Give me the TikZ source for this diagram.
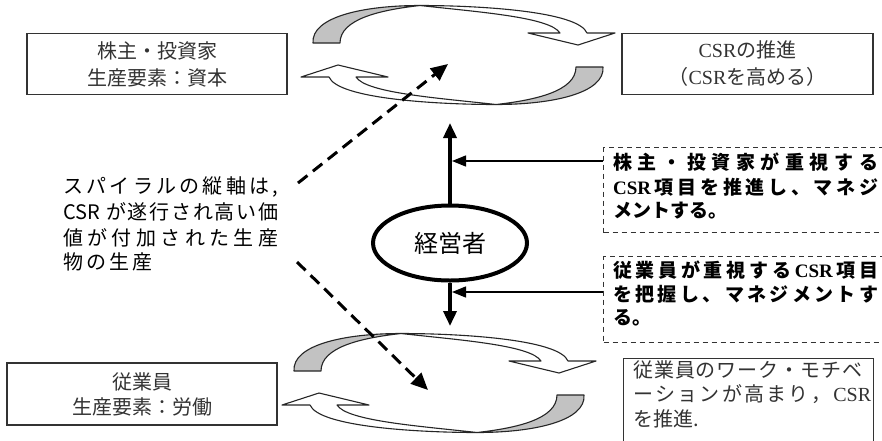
\documentclass[tikz,border=0pt]{standalone}
\usepackage{fontspec}
\setmainfont{Noto Sans CJK JP}
\newfontfamily\lserif{Liberation Serif}
\usetikzlibrary{arrows.meta,shapes.geometric}
\def\jsEnd{\jsEnd}
\def\jsNext#1{\ifx\jsEnd#1\else\hfill#1\expandafter\jsNext\fi}
\def\jsFirst#1{#1\jsNext}
\newcommand\jsline[2]{\makebox[#1][s]{\jsFirst#2\jsEnd}}
\tikzset{
  outl/.style={draw=black!85, line width=1.1pt, line join=round},
  sbox/.style={draw=black!80, line width=1.3pt, inner sep=0pt, align=center,
    font=\fontsize{20}{27}\selectfont, text=black!80},
  dbox/.style={draw=black!80, line width=1pt, dash pattern=on 5pt off 4pt,
    inner sep=0pt, anchor=north west},
  btxt/.style={font=\fontsize{19}{23}\selectfont\bfseries, anchor=west, inner sep=0pt},
  ltxt/.style={font=\fontsize{20}{24}\selectfont, anchor=west, inner sep=0pt},
  thickarrow/.style={line width=3.5pt, -{Triangle[length=15pt,width=13pt]}},
  thinarrow/.style={line width=1.4pt, -{Triangle[length=14pt,width=11pt]}},
  dasharrow/.style={line width=3pt, dash pattern=on 12pt off 7pt,
    -{Triangle[length=17pt,width=15pt]}},
  halfloop/.pic={
    \path[outl, fill=white] (-38,-49.5) .. controls (20,-49.5) and (120,-44) .. (129,-22)
      -- (157,-22) -- (120,-10) -- (70,-22) -- (102,-22)
      .. controls (92,-38) and (20,-43) .. (-38,-49.5) -- cycle;
    \path[outl, fill=black!24] (-145,-12) .. controls (-147,-38) and (-95,-49.5) .. (-38,-49.5)
      .. controls (-78,-45) and (-118,-36) .. (-118,-12) -- cycle;
  }
}
\begin{document}
\begin{tikzpicture}[x=1pt,y=-1pt]
\useasboundingbox (0,0) rectangle (882,440);
\fill[white] (0,0) rectangle (882,440);
% spiral loops
\pic at (458,55) {halfloop};
\pic[rotate=180] at (458,55) {halfloop};
\pic at (439,383) {halfloop};
\pic[rotate=180] at (439,383) {halfloop};
% solid boxes
\node[sbox, minimum width=260pt, minimum height=61pt] (inv) at (157,64) {株主・投資家\\生産要素：資本};
\node[sbox, minimum width=251pt, minimum height=61pt] (csr) at (747.5,64) {{\lserif CSR}の推進\\（{\lserif CSR}を高める）};
\node[sbox, minimum width=270pt, minimum height=62pt, font=\fontsize{20}{25}\selectfont] (emp) at (142,394) {従業員\\生産要素：労働};
\node[sbox, anchor=north west, minimum width=250pt, minimum height=100pt] (mot) at (623,358) {};
\node[ltxt, text=black!80] (m1) at (633,370) {\jsline{229pt}{従業員のワーク・モチベ}};
\node[ltxt, text=black!80] (m2) at (633,394) {\jsline{238pt}{ーションが高まり，{{\lserif CSR}}}};
\node[ltxt, text=black!80] (m3) at (633,419) {を推進.};
% manager
\node[ellipse, draw, line width=4pt, minimum width=154pt, minimum height=75pt, inner sep=0pt,
  font=\fontsize{24}{28}\selectfont] (mgr) at (450,243) {経営者};
\coordinate (upTip) at (450,123);
\coordinate (dnTip) at (450,326);
\draw[thickarrow] (mgr.north) -- (upTip);
\draw[thickarrow] (mgr.south) -- (dnTip);
% dashed boxes
\node[dbox, minimum width=300pt, minimum height=85pt] (sh) at (603,147) {};
\node[dbox, minimum width=300pt, minimum height=86pt] (em) at (603,256) {};
\node[btxt] (sh1) at (613,162) {\jsline{265pt}{株主・投資家が重視する}};
\node[btxt] (sh2) at (613,187) {\jsline{265pt}{{{\lserif\bfseries CSR}}項目を推進し、マネジ}};
\node[btxt] (sh3) at (613,211) {メントする。};
\node[btxt] (em1) at (613,270) {\jsline{265pt}{従業員が重視する{{\lserif\bfseries CSR}}項目}};
\node[btxt] (em2) at (613,294) {\jsline{265pt}{を把握し、マネジメントす}};
\node[btxt] (em3) at (613,318) {る。};
\coordinate (h1) at (452,161);
\coordinate (h2) at (452,292);
\draw[thinarrow] (sh.west |- h1) -- (h1);
\draw[thinarrow] (em.west |- h2) -- (h2);
% left text
\node[ltxt] (t1) at (63,187) {\jsline{215pt}{スパイラルの縦軸は,}};
\node[ltxt] (t2) at (63,212) {\jsline{215pt}{{{CSR\ }}が遂行され高い価}};
\node[ltxt] (t3) at (63,238) {\jsline{215pt}{値が付加された生産}};
\node[ltxt] (t4) at (63,262) {\jsline{89pt}{物の生産}};
% dashed arrows
\coordinate (d1s) at (298,183);
\coordinate (d1e) at (448,64);
\coordinate (d2s) at (297,262);
\coordinate (d2e) at (428,390);
\draw[dasharrow] (d1s) -- (d1e);
\draw[dasharrow] (d2s) -- (d2e);
\end{tikzpicture}
\end{document}
